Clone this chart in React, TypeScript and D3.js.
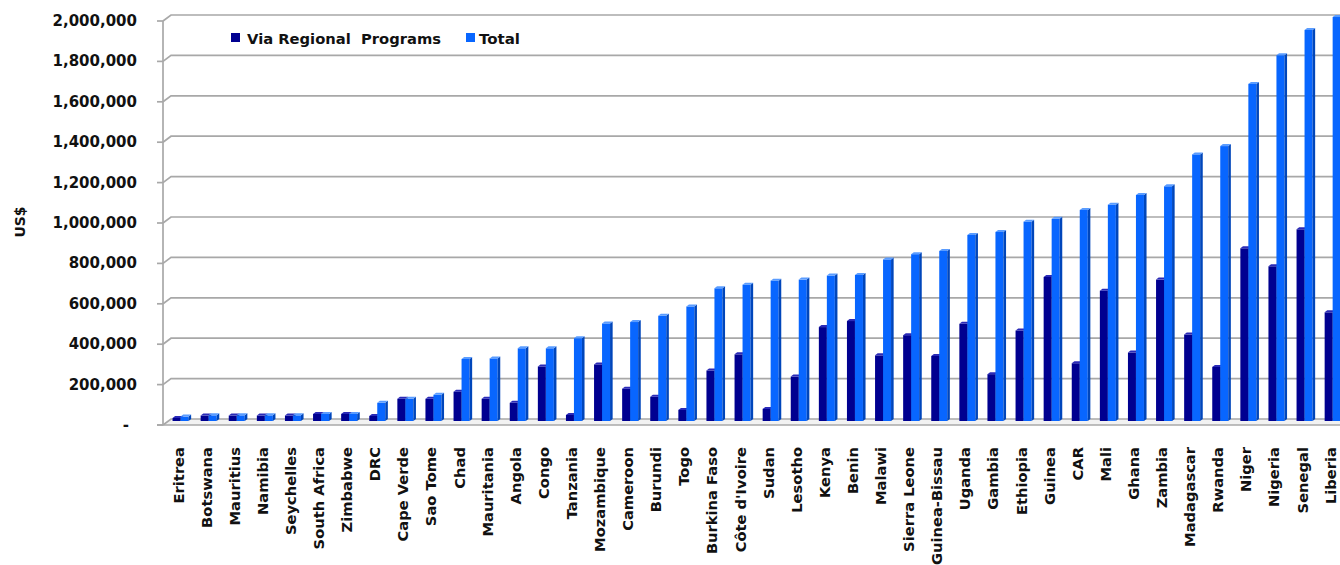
import React from "react";
import * as d3 from "d3";

const categories = [
  "Eritrea", "Botswana", "Mauritius", "Namibia", "Seychelles", "South Africa", "Zimbabwe",
  "DRC", "Cape Verde", "Sao Tome", "Chad", "Mauritania", "Angola", "Congo", "Tanzania",
  "Mozambique", "Cameroon", "Burundi", "Togo", "Burkina Faso", "Côte d'Ivoire", "Sudan",
  "Lesotho", "Kenya", "Benin", "Malawi", "Sierra Leone", "Guinea-Bissau", "Uganda", "Gambia",
  "Ethiopia", "Guinea", "CAR", "Mali", "Ghana", "Zambia", "Madagascar", "Rwanda", "Niger",
  "Nigeria", "Senegal", "Liberia",
];

const viaRegional = [
  5000, 17000, 17000, 17000, 17000, 25000, 25000, 15000, 100000, 100000, 135000, 100000,
  80000, 260000, 20000, 270000, 150000, 110000, 45000, 240000, 320000, 50000, 210000,
  455000, 485000, 315000, 415000, 312000, 471000, 222000, 438000, 703000, 276000, 635000,
  329000, 690000, 418000, 258000, 845000, 756000, 939000, 528000,
];

const total = [
  12000, 18000, 18000, 18000, 18000, 25000, 25000, 80000, 100000, 120000, 297000, 300000,
  350000, 350000, 400000, 473000, 480000, 511000, 557000, 647000, 665000, 685000, 690000,
  710000, 713000, 790000, 816000, 832000, 911000, 926000, 977000, 991000, 1035000, 1061000,
  1109000, 1152000, 1310000, 1351000, 1659000, 1801000, 1926000, 1990000,
];

const yTicks = [0, 200000, 400000, 600000, 800000, 1000000, 1200000, 1400000, 1600000, 1800000, 2000000];
const yTickLabels = ["-", "200,000", "400,000", "600,000", "800,000", "1,000,000", "1,200,000", "1,400,000", "1,600,000", "1,800,000", "2,000,000"];

const seriesNames = ["Via Regional  Programs", "Total"];

const FONT = "'DejaVu Sans', Verdana, sans-serif";

export default function App() {
  const W = 1340;
  const H = 565;
  const left = 163;
  const band = 28.1;
  const right = 1340;
  const depthX = 8;
  const depthY = 6;

  const x = d3.scaleBand<string>().domain(categories).range([left, left + band * categories.length]).padding(0);
  const yBack = d3.scaleLinear().domain([0, 2000000]).range([419, 15]);
  const yFront = (v: number) => yBack(v) + depthY;

  const base = 421;
  const bw = 8;
  const sd = 2.6;
  const sdy = 2;

  const colors = [
    { front: "#000090", side: "#00005e", top: "#2a2ab8" },
    { front: "#0866ff", side: "#0046bb", top: "#5a9cff" },
  ];

  const bar = (xl: number, v: number, c: { front: string; side: string; top: string }, key: string) => {
    const top = Math.min(yBack(v), base - 1);
    return (
      <g key={key}>
        <rect x={xl} y={top} width={bw} height={base - top} fill={c.front} />
        <polygon
          points={`${xl + bw},${top} ${xl + bw + sd},${top - sdy} ${xl + bw + sd},${base - sdy} ${xl + bw},${base}`}
          fill={c.side}
        />
        <polygon
          points={`${xl},${top} ${xl + sd},${top - sdy} ${xl + bw + sd},${top - sdy} ${xl + bw},${top}`}
          fill={c.top}
        />
      </g>
    );
  };

  return (
    <svg width={W} height={H} style={{ position: "absolute", left: 0, top: 0, background: "#fff" }}>
      {/* floor */}
      <polygon
        points={`${left},${yFront(0)} ${left + depthX},${yBack(0)} ${right},${yBack(0)} ${right},${yFront(0)}`}
        fill="#f2f2f2"
      />
      {/* gridlines */}
      {yTicks.map((t) => (
        <path
          key={"g" + t}
          d={`M${left},${yFront(t)} L${left + depthX},${yBack(t)} L${right},${yBack(t)}`}
          fill="none"
          stroke="#a8a8a8"
          strokeWidth={1.7}
        />
      ))}
      <path d={`M${left - 6},${yFront(0)} L${right},${yFront(0)}`} stroke="#a8a8a8" strokeWidth={1.7} />
      {/* axis line */}
      <line x1={left} x2={left} y1={yFront(2000000)} y2={yFront(0)} stroke="#a8a8a8" strokeWidth={1.7} />
      {yTicks.map((t, i) => (
        <g key={"t" + t}>
          <line x1={left - 6} x2={left} y1={yFront(t)} y2={yFront(t)} stroke="#a8a8a8" strokeWidth={1.7} />
          <text
            x={t === 0 ? 129 : 137}
            y={yFront(t)}
            textAnchor="end"
            dominantBaseline="central"
            fontFamily={FONT}
            fontWeight="bold"
            fontSize={15}
            fill="#111"
          >
            {yTickLabels[i]}
          </text>
        </g>
      ))}
      {/* bars */}
      {categories.map((c, i) => {
        const cx = (x(c) as number) + band / 2 + 4.5;
        return (
          <g key={"b" + c}>
            {bar(cx - 9, viaRegional[i], colors[0], "d")}
            {bar(cx - 1, total[i], colors[1], "l")}
          </g>
        );
      })}
      {/* x labels */}
      {categories.map((c) => {
        const cx = (x(c) as number) + band / 2 + 1;
        return (
          <text
            key={"l" + c}
            transform={`translate(${cx},447) rotate(-90)`}
            textAnchor="end"
            dominantBaseline="central"
            fontFamily={FONT}
            fontWeight="bold"
            fontSize={14.7}
            fill="#111"
          >
            {c}
          </text>
        );
      })}
      {/* y title */}
      <text
        transform="translate(20,222) rotate(-90)"
        textAnchor="middle"
        dominantBaseline="central"
        fontFamily={FONT}
        fontWeight="bold"
        fontSize={14}
        fill="#111"
      >
        US$
      </text>
      {/* legend */}
      <rect x={231} y={33} width={9} height={9} fill={colors[0].front} />
      <text
        x={247}
        y={44}
        fontFamily={FONT}
        fontWeight="bold"
        fontSize={14.5}
        fill="#111"
        textLength={194}
        lengthAdjust="spacingAndGlyphs"
        style={{ whiteSpace: "pre" }}
      >
        {seriesNames[0]}
      </text>
      <rect x={466} y={33} width={9} height={9} fill={colors[1].front} />
      <text
        x={479}
        y={44}
        fontFamily={FONT}
        fontWeight="bold"
        fontSize={14.5}
        fill="#111"
        textLength={41}
        lengthAdjust="spacingAndGlyphs"
      >
        {seriesNames[1]}
      </text>
    </svg>
  );
}
